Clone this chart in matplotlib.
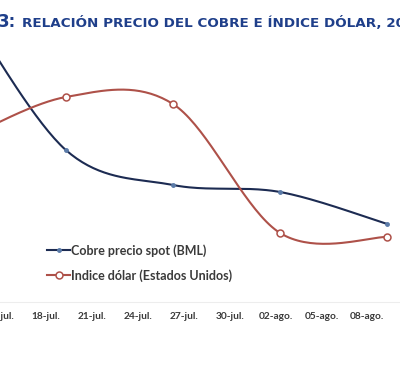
import numpy as np
import matplotlib
matplotlib.use('Agg')
import matplotlib.pyplot as plt

# fechas (dias contados desde el 18-jul)
fechas = [-6, 1, 8, 15, 22]          # 12-jul, 19-jul, 26-jul, 02-ago, 09-ago
cobre = [372, 218, 183, 176, 144]    # nivel relativo, precio spot BML
dolar = [226, 271, 264, 135, 131]    # nivel relativo, indice dolar EEUU

tick_dias = [-3, 0, 3, 6, 9, 12, 15, 18, 21]
tick_labels = ['15-jul.', '18-jul.', '21-jul.', '24-jul.', '27-jul.',
               '30-jul.', '02-ago.', '05-ago.', '08-ago.']

titulo_num = '3:'
titulo = 'RELACIÓN PRECIO DEL COBRE E ÍNDICE DÓLAR, 20'


def suavizar(x, y, n=40):
    # curva suavizada tipo excel (catmull-rom en bezier)
    p = np.column_stack([x, y]).astype(float)
    p = np.vstack([p[0], p, p[-1]])
    out = []
    t = np.linspace(0, 1, n)
    for i in range(1, len(p) - 2):
        p0, p1, p2, p3 = p[i - 1], p[i], p[i + 1], p[i + 2]
        b1 = p1 + (p2 - p0) / 6
        b2 = p2 - (p3 - p1) / 6
        seg = ((1 - t) ** 3)[:, None] * p1 + (3 * (1 - t) ** 2 * t)[:, None] * b1 \
            + (3 * (1 - t) * t ** 2)[:, None] * b2 + (t ** 3)[:, None] * p2
        out.append(seg)
    c = np.vstack(out)
    return c[:, 0], c[:, 1]


fig = plt.figure(figsize=(4.0, 3.68), dpi=100)
ax = fig.add_axes([0, 66 / 368, 1, 302 / 368])
ax.set_xlim(-2.853, 22.835)
ax.set_ylim(66, 368)

azul = '#1C2B52'
rojo = '#AE5149'

xs, ys = suavizar(fechas, cobre)
ax.plot(xs, ys, color=azul, lw=1.5)
ax.plot(fechas, cobre, ls='none', marker='o', ms=2.5, mfc='#5B7BA8', mec='#5B7BA8')
xs, ys = suavizar(fechas, dolar)
ax.plot(xs, ys, color=rojo, lw=1.5)
ax.plot(fechas, dolar, ls='none', marker='o', ms=5, mfc='white', mec=rojo, mew=1.1)

# leyenda
h1, = ax.plot([], [], color=azul, lw=1.5, marker='o', ms=2.5, mfc='#5B7BA8', mec='#5B7BA8')
h2, = ax.plot([], [], color=rojo, lw=1.5, marker='o', ms=5, mfc='white', mec=rojo, mew=1.1)
leg = ax.legend([h1, h2], ['Cobre precio spot (BML)', 'Indice dólar (Estados Unidos)'],
                loc='upper left', bbox_to_anchor=(36 / 400, 1 - 233 / 302),
                frameon=False, handlelength=1.8, handletextpad=0.1,
                labelspacing=0.95, prop={'family': 'Lato', 'size': 9, 'weight': 'bold'})
for t in leg.get_texts():
    t.set_color('#3A3A3A')

ax.set_xticks([d - 0.3 for d in tick_dias])
ax.set_xticklabels(tick_labels, fontsize=7.3, family='Lato', weight='bold', color='#3A3A3A')
ax.tick_params(axis='x', length=0, pad=7)
ax.set_yticks([])
for s in ['top', 'left', 'right']:
    ax.spines[s].set_visible(False)
ax.spines['bottom'].set_color('#EDEDED')
ax.spines['bottom'].set_linewidth(0.8)

fig.text(-2 / 400, 1 - 22 / 368, titulo_num, fontsize=12, weight='bold',
         color='#1F3F8A', va='center', ha='left', family='DejaVu Sans')
fig.text(22 / 400, 1 - 23 / 368, titulo, fontsize=9.7, weight='bold',
         color='#1F3F8A', va='center', ha='left', family='DejaVu Sans')

fig.savefig('out.png', dpi=100)
